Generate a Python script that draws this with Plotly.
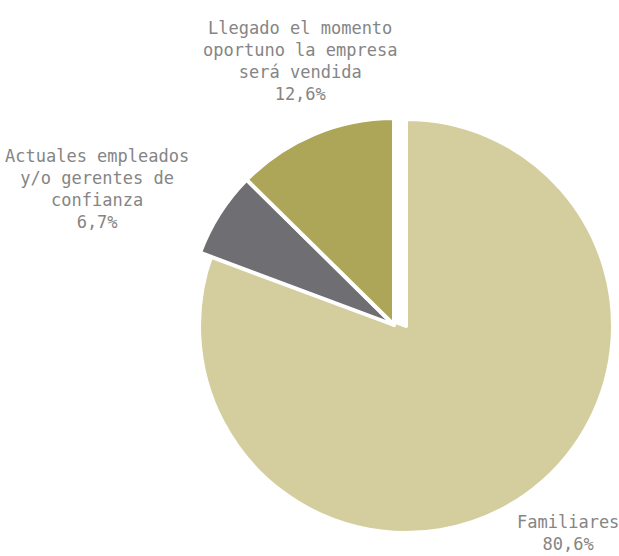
import plotly.graph_objects as go

# ---- data ----
labels = ["Familiares", "Actuales empleados<br>y/o gerentes de<br>confianza",
          "Llegado el momento<br>oportuno la empresa<br>será vendida"]
values = [80.6, 6.7, 12.6]
colors = ["#D4CE9F", "#6E6E73", "#ADA557"]

TRANSPARENT = "rgba(0,0,0,0)"

def pct(v):
    return f"{v:.1f}".replace(".", ",") + "%"

fig = go.Figure()

# main slice (Familiares)
fig.add_trace(go.Pie(
    labels=labels, values=values, sort=False, direction="clockwise", rotation=0,
    marker=dict(colors=[colors[0], TRANSPARENT, TRANSPARENT],
                line=dict(color="white", width=[4, 0, 0])),
    textinfo="none", hoverinfo="skip", showlegend=False,
    domain=dict(x=[199/619, 613/619], y=[1-533/556, 1-119/556]),
))
# detached small slices
fig.add_trace(go.Pie(
    labels=labels, values=values, sort=False, direction="clockwise", rotation=0,
    marker=dict(colors=[TRANSPARENT, colors[1], colors[2]],
                line=dict(color="white", width=[0, 4, 4])),
    textinfo="none", hoverinfo="label+value", showlegend=False,
    domain=dict(x=[187/619, 601/619], y=[1-532/556, 1-118/556]),
))

font = dict(family="DejaVu Sans Mono", size=17, color="#858585")
label_pos = [(568/619, 1-533/556), (97/619, 1-189/556), (300/619, 1-61/556)]
for lab, v, (x, y) in zip(labels, values, label_pos):
    fig.add_annotation(x=x, y=y, xref="paper", yref="paper",
                       text=f"{lab}<br>{pct(v)}", showarrow=False,
                       align="center", xanchor="center", yanchor="middle",
                       font=font)

fig.update_layout(width=619, height=556, margin=dict(l=0, r=0, t=0, b=0),
                  paper_bgcolor="white", plot_bgcolor="white")
fig.write_html("out.html", config={"displayModeBar": False},
               post_script="document.body.style.margin='0';document.body.style.padding='0';")
